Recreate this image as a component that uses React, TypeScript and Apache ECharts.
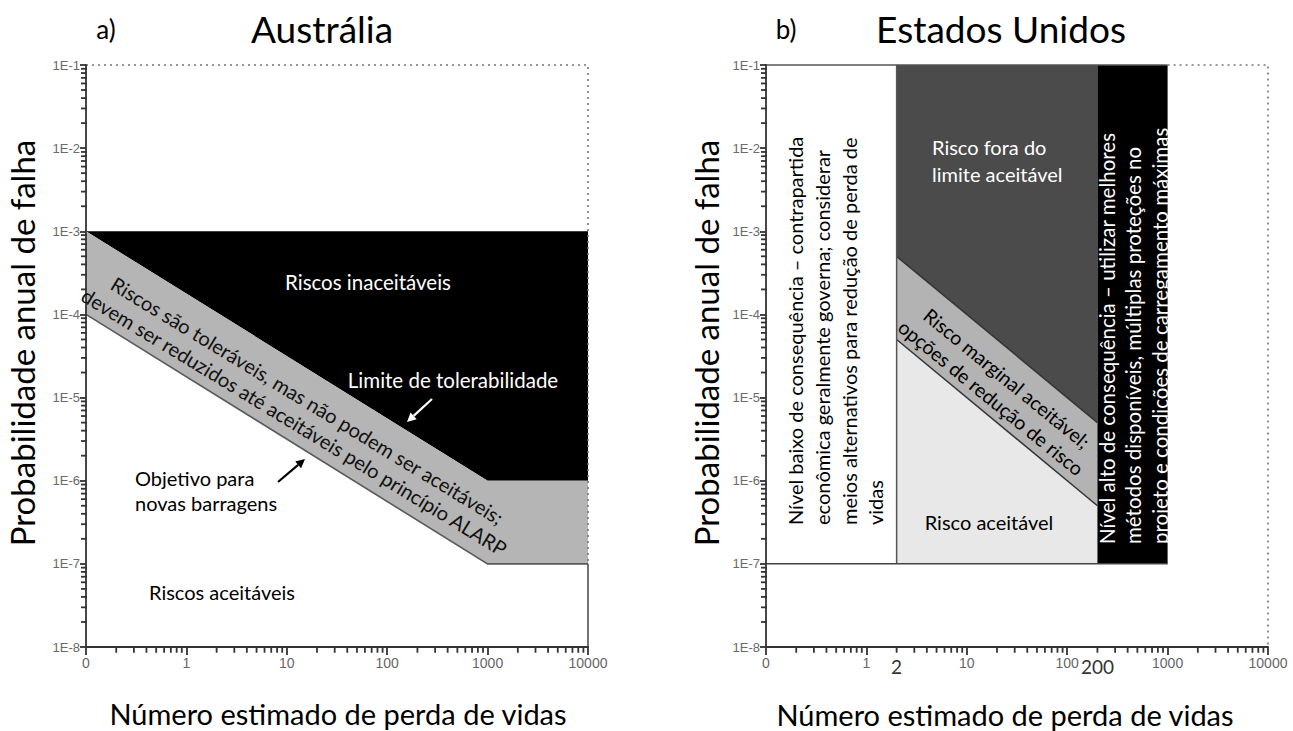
import React, { useEffect, useRef } from "react";
import * as echarts from "echarts";

type Pt = [number, number];

// ---------- axis data ----------
const xMin = 0.1;
const xMax = 10000;
const yMin = 1e-8;
const yMax = 1e-1;
const minorMultipliers = [2, 3, 4, 5, 6, 7, 8, 9];
const xDecadeStarts = [0.1, 1, 10, 100, 1000];
const yDecadeStarts = [1e-8, 1e-7, 1e-6, 1e-5, 1e-4, 1e-3, 1e-2];
const usExtraXLabels = [2, 200];

// ---------- a) Austrália ----------
const ausUnacceptable: Pt[] = [[0.1, 1e-3], [10000, 1e-3], [10000, 1e-6], [1000, 1e-6]];
const ausTolerable: Pt[] = [[0.1, 1e-3], [1000, 1e-6], [10000, 1e-6], [10000, 1e-7], [1000, 1e-7], [0.1, 1e-4]];
const ausObjectiveLine: Pt[] = [[0.1, 1e-4], [1000, 1e-7], [10000, 1e-7]];

// ---------- b) Estados Unidos ----------
const usLowConsequence: Pt[] = [[0.1, 1e-7], [2, 1e-7], [2, 1e-1], [0.1, 1e-1]];
const usUnacceptable: Pt[] = [[2, 1e-1], [200, 1e-1], [200, 5e-6], [2, 5e-4]];
const usMarginal: Pt[] = [[2, 5e-4], [200, 5e-6], [200, 5e-7], [2, 5e-5]];
const usAcceptable: Pt[] = [[2, 5e-5], [200, 5e-7], [200, 1e-7], [2, 1e-7]];
const usHighConsequence: Pt[] = [[200, 1e-7], [1000, 1e-7], [1000, 1e-1], [200, 1e-1]];

const FONT = "Lato, 'Open Sans', sans-serif";
const TICK_FONT = "'Liberation Sans', Arial, sans-serif";
const AXIS_COLOR = "#333333";

// minor tick positions (log decades x 2..9)
const yMinorTickValues: number[] = [];
for (const d of yDecadeStarts) for (const m of minorMultipliers) yMinorTickValues.push(d * m);
const xMinorTickValues: number[] = [];
for (const d of xDecadeStarts) for (const m of minorMultipliers) xMinorTickValues.push(d * m);

function poly(api: any, pts: Pt[], fill: string) {
  return { type: "polygon", shape: { points: pts.map((p) => api.coord(p)) }, style: { fill, stroke: null } };
}
function pline(api: any, pts: Pt[], stroke: string, lineWidth: number, dash?: number[]) {
  return {
    type: "polyline",
    shape: { points: pts.map((p) => api.coord(p)) },
    style: { stroke, lineWidth, fill: null, lineDash: dash || null },
  };
}

const DOT = [2, 4];

function renderAus(params: any, api: any) {
  const ch: any[] = [];
  ch.push(poly(api, ausUnacceptable, "#000000"));
  ch.push(poly(api, ausTolerable, "#b5b5b5"));
  ch.push(pline(api, ausObjectiveLine, "#5a5a5a", 1.6));
  ch.push(pline(api, [[xMin, yMax], [xMax, yMax], [xMax, 1e-7]], "#777", 1.6, DOT));
  ch.push(pline(api, [[xMax, 1e-7], [xMax, yMin]], "#444", 1.5));
  return { type: "group", children: ch };
}

function renderUS(params: any, api: any) {
  const ch: any[] = [];
  ch.push(poly(api, usLowConsequence, "#ffffff"));
  ch.push(poly(api, usUnacceptable, "#4b4b4b"));
  ch.push(poly(api, usMarginal, "#b3b3b3"));
  ch.push(poly(api, usAcceptable, "#e8e8e8"));
  ch.push(poly(api, usHighConsequence, "#000000"));
  ch.push(pline(api, [usMarginal[0], usMarginal[1]], "#333", 1.5));
  ch.push(pline(api, [usMarginal[3], usMarginal[2]], "#333", 1.5));
  ch.push(pline(api, [[2, 1e-7], [2, 1e-1]], "#555", 1.5));
  ch.push(pline(api, [[xMin, 1e-1], [1000, 1e-1]], "#555", 1.5));
  ch.push(pline(api, [[xMin, 1e-7], [1000, 1e-7]], "#444", 1.5));
  ch.push(pline(api, [[1000, yMax], [xMax, yMax], [xMax, yMin]], "#777", 1.6, DOT));
  for (const v of usExtraXLabels) {
    const p = api.coord([v, yMin]);
    ch.push({
      type: "text",
      x: p[0],
      y: p[1] + 19,
      style: {
        text: String(v), fill: "#333", fontSize: 19, fontFamily: FONT,
        textAlign: "center", align: "center", textVerticalAlign: "middle", verticalAlign: "middle",
      },
    });
  }
  return { type: "group", children: ch };
}

function minorTickSeries(axisIndex: number) {
  return [
    {
      type: "scatter", xAxisIndex: axisIndex, yAxisIndex: axisIndex, clip: false, silent: true, z: 11,
      symbol: "rect", symbolSize: [6, 1.8], symbolOffset: [-2, 0],
      itemStyle: { color: AXIS_COLOR, opacity: 1 },
      data: yMinorTickValues.map((v) => [xMin, v]),
    },
    {
      type: "scatter", xAxisIndex: axisIndex, yAxisIndex: axisIndex, clip: false, silent: true, z: 11,
      symbol: "rect", symbolSize: [1.8, 5.5], symbolOffset: [0, 3],
      itemStyle: { color: AXIS_COLOR, opacity: 1 },
      data: xMinorTickValues.map((v) => [v, yMin]),
    },
  ];
}

function txt(text: string, x: number, y: number, size: number, o: any = {}) {
  const align = o.align || "center";
  const va = o.va || "middle";
  return {
    type: "text",
    x, y,
    rotation: o.rotation || 0,
    z: 100,
    style: {
      text, fill: o.fill || "#000", fontSize: size, fontFamily: FONT,
      textAlign: align, align, textVerticalAlign: va, verticalAlign: va,
      lineHeight: o.lh,
    },
  };
}

function arrow(x1: number, y1: number, x2: number, y2: number, color: string) {
  const dx = x2 - x1, dy = y2 - y1;
  const len = Math.sqrt(dx * dx + dy * dy);
  const ux = dx / len, uy = dy / len;
  const px = -uy, py = ux;
  const bx = x2 - ux * 9, by = y2 - uy * 9;
  return [
    { type: "line", z: 100, shape: { x1, y1, x2: bx, y2: by }, style: { stroke: color, lineWidth: 2.2 } },
    { type: "polygon", z: 100, shape: { points: [[x2, y2], [bx + px * 4.5, by + py * 4.5], [bx - px * 4.5, by - py * 4.5]] }, style: { fill: color } },
  ];
}

function xAxisCfg(gridIndex: number) {
  return {
    type: "log", logBase: 10, gridIndex, min: xMin, max: xMax, splitNumber: 5, z: 10,
    axisLine: { show: true, onZero: false, lineStyle: { color: AXIS_COLOR, width: 1.8 } },
    axisTick: { show: true, length: 8, lineStyle: { color: AXIS_COLOR, width: 1.8 } },
    splitLine: { show: false },
    axisLabel: {
      formatter: (v: number) => (v < 0.5 ? "0" : String(Math.round(v))),
      color: "#666", fontSize: 14, fontFamily: TICK_FONT, margin: 9,
    },
  };
}
function yAxisCfg(gridIndex: number) {
  return {
    type: "log", logBase: 10, gridIndex, min: yMin, max: yMax, splitNumber: 7, z: 10,
    axisLine: { show: true, onZero: false, lineStyle: { color: AXIS_COLOR, width: 1.8 } },
    axisTick: { show: true, length: 6, lineStyle: { color: AXIS_COLOR, width: 1.8 } },
    splitLine: { show: false },
    axisLabel: {
      formatter: (v: number) => "1E" + Math.round(Math.log10(v)),
      color: "#6a6a6a", fontSize: 13, fontFamily: TICK_FONT, margin: 6,
    },
  };
}

export default function App() {
  const ref = useRef<HTMLDivElement>(null);
  useEffect(() => {
    if (!ref.current) return;
    const chart = echarts.init(ref.current, undefined, { renderer: "svg" });
    const graphics: any[] = [
      txt("a)", 106, 29, 26),
      txt("Austrália", 322, 28, 37),
      txt("Probabilidade anual de falha", 22, 343, 33, { rotation: Math.PI / 2 }),
      txt("Número estimado de perda de vidas", 338, 713, 29),
      txt("Riscos inaceitáveis", 368, 282, 20.5, { fill: "#fff" }),
      txt("Limite de tolerabilidade", 453, 380, 20.5, { fill: "#fff" }),
      txt("Riscos são toleráveis, mas não podem ser aceitáveis;\ndevem ser reduzidos até aceitáveis pelo princípio ALARP", 301, 411, 20, { rotation: -0.548, lh: 25, fill: "#111" }),
      txt("Objetivo para\nnovas barragens", 135, 490, 20, { align: "left", lh: 25 }),
      txt("Riscos aceitáveis", 222, 592, 20),
      ...arrow(432, 399, 407, 422, "#ffffff"),
      ...arrow(278, 482, 305, 459, "#000000"),

      txt("b)", 786, 29, 26),
      txt("Estados Unidos", 1001, 28, 37),
      txt("Probabilidade anual de falha", 706, 343, 33, { rotation: Math.PI / 2 }),
      txt("Número estimado de perda de vidas", 1005, 714, 29),
      txt("Nível baixo de consequência – contrapartida\neconômica geralmente governa; considerar\nmeios alternativos para redução de perda de\nvidas", 782, 525, 20, { rotation: Math.PI / 2, align: "left", va: "top", lh: 26.7 }),
      txt("Risco fora do\nlimite aceitável", 932, 160, 20, { align: "left", lh: 27, fill: "#fff" }),
      txt("Risco marginal aceitável;\nopções de redução de risco", 999, 388, 19.5, { rotation: -0.685, lh: 25 }),
      txt("Risco aceitável", 989, 522, 20),
      txt("Nível alto de consequência – utilizar melhores\nmétodos disponíveis, múltiplas proteções no\nprojeto e condições de carregamento máximas", 1094, 544, 20.5, { rotation: Math.PI / 2, align: "left", va: "top", lh: 26.3, fill: "#fff" }),
    ];
    chart.setOption({
      animation: false,
      backgroundColor: "#ffffff",
      grid: [
        { left: 86, top: 65, width: 502, height: 582, show: false },
        { left: 766, top: 65, width: 502, height: 582, show: false },
      ],
      xAxis: [xAxisCfg(0), xAxisCfg(1)],
      yAxis: [yAxisCfg(0), yAxisCfg(1)],
      series: [
        { type: "custom", xAxisIndex: 0, yAxisIndex: 0, clip: false, z: 2, renderItem: renderAus, data: [[1, 1e-4]] },
        { type: "custom", xAxisIndex: 1, yAxisIndex: 1, clip: false, z: 2, renderItem: renderUS, data: [[1, 1e-4]] },
        ...minorTickSeries(0),
        ...minorTickSeries(1),
      ],
      graphic: graphics,
    });
    return () => chart.dispose();
  }, []);
  return (
    <div
      ref={ref}
      style={{ position: "fixed", left: 0, top: 0, width: 1293, height: 731, background: "#fff" }}
    />
  );
}
